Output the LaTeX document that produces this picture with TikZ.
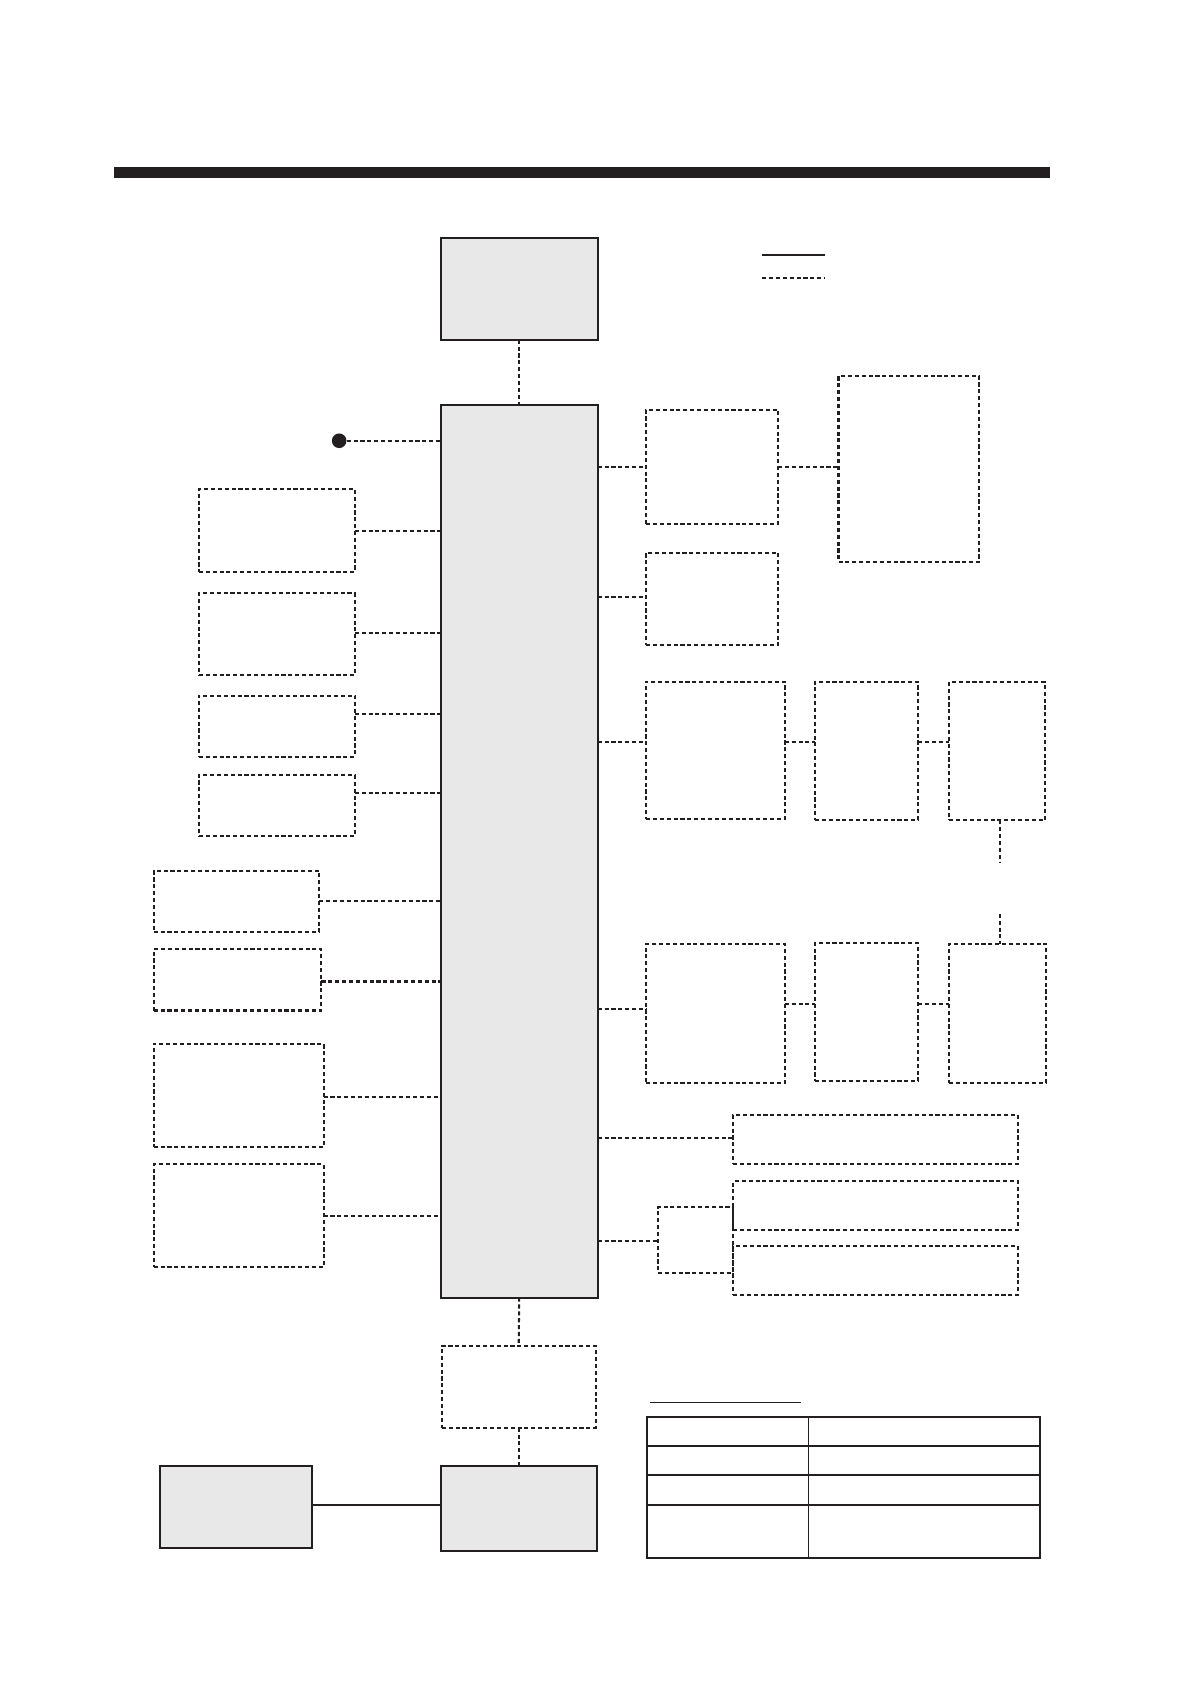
\documentclass[tikz,border=0pt]{standalone}
\usetikzlibrary{calc}
\definecolor{ink}{HTML}{231F20}
\definecolor{panel}{HTML}{E8E8E8}
\newcommand\boxat[6]{\node[#1,minimum width={(#5-#3)*1pt},minimum height={(#6-#4)*1pt}] (#2) at (#3,#4) {};}
\begin{document}
\begin{tikzpicture}[x=1pt,y=-1pt,
  solidbox/.style={draw=ink,line width=1.9pt,fill=panel,inner sep=0pt,outer sep=0pt,anchor=north west},
  dashbox/.style={draw=ink,line width=1.9pt,dash pattern=on 3.8pt off 2.6pt,inner sep=0pt,outer sep=0pt,anchor=north west},
  tablebox/.style={draw=ink,line width=1.9pt,inner sep=0pt,outer sep=0pt,anchor=north west},
  conn/.style={draw=ink,line width=1.9pt,dash pattern=on 3.8pt off 2.6pt},
  wire/.style={draw=ink,line width=1.6pt},
  rule/.style={draw=ink,line width=1.3pt}]
\useasboundingbox (0,0) rectangle (1107,1566.5);
% title bar
\fill[ink] (106,155) rectangle (977,166);
% legend
\coordinate (lgA) at (709,237); \coordinate (lgB) at (767,237);
\coordinate (lgC) at (709,259); \coordinate (lgD) at (767,259);
\draw[wire,line width=1.9pt] (lgA) -- (lgB);
\draw[conn] (lgC) -- (lgD);
% central column
\boxat{solidbox}{T}{410}{221}{556}{316}
\boxat{solidbox}{M}{410}{377}{556}{1207}
\draw[conn] (T.south) -- (M.north);
% dot input
\node[circle,fill=ink,inner sep=0pt,minimum size=13.6pt] (dot) at (315.5,410) {};
\draw[conn] (dot) -- (dot -| M.west);
% left boxes
\boxat{dashbox}{L1}{185}{455}{330}{532}
\boxat{dashbox}{L2}{185}{552}{330}{628}
\boxat{dashbox}{L3}{185}{647}{330}{704}
\boxat{dashbox}{L4}{185}{721}{330}{778}
\boxat{dashbox}{L5}{143}{810}{297}{867}
\boxat{dashbox}{L6}{143}{883}{299}{940}
\boxat{dashbox}{L7}{143}{971}{301}{1067}
\boxat{dashbox}{L8}{143}{1083}{301}{1179}
\coordinate (h1) at (0,494);
\coordinate (h2) at (0,589);
\coordinate (h3) at (0,664);
\coordinate (h4) at (0,738);
\coordinate (h5) at (0,838);
\coordinate (h6) at (0,913);
\coordinate (h7) at (0,1020);
\coordinate (h8) at (0,1131);
\foreach \i in {1,...,8}{\draw[conn] (L\i.east |- h\i) -- (M.west |- h\i);}
% right boxes
\boxat{dashbox}{R1}{601}{381}{724}{487}
\boxat{dashbox}{R1b}{780}{350}{911}{523}
\boxat{dashbox}{R2}{601}{514}{724}{600}
\boxat{dashbox}{R3a}{601}{634}{730}{762}
\boxat{dashbox}{R3b}{758}{634}{854}{763}
\boxat{dashbox}{R3c}{883}{634}{972}{763}
\boxat{dashbox}{R4a}{601}{878}{730}{1007}
\boxat{dashbox}{R4b}{758}{877}{854}{1006}
\boxat{dashbox}{R4c}{883}{878}{973}{1007}
\boxat{dashbox}{R5}{682}{1037}{947}{1083}
\boxat{dashbox}{R6}{682}{1099}{947}{1144}
\boxat{dashbox}{R7}{682}{1159}{947}{1205}
\boxat{dashbox}{S}{612}{1123}{682}{1184}
\coordinate (r1) at (0,434);
\coordinate (r2) at (0,555);
\coordinate (r3) at (0,690);
\coordinate (r4) at (0,939);
\coordinate (r4b) at (0,934);
\coordinate (r5) at (0,1059);
\coordinate (r6) at (0,1154);
\draw[conn] (M.east |- r1) -- (R1.west |- r1);
\draw[conn] (R1.east |- r1) -- (R1b.west |- r1);
\draw[conn] (M.east |- r2) -- (R2.west |- r2);
\draw[conn] (M.east |- r3) -- (R3a.west |- r3);
\draw[conn] (R3a.east |- r3) -- (R3b.west |- r3);
\draw[conn] (R3b.east |- r3) -- (R3c.west |- r3);
\draw[conn] (M.east |- r4) -- (R4a.west |- r4);
\draw[conn] (R4a.east |- r4b) -- (R4b.west |- r4b);
\draw[conn] (R4b.east |- r4b) -- (R4c.west |- r4b);
\draw[conn] (M.east |- r5) -- (R5.west |- r5);
\draw[conn] (M.east |- r6) -- (S.west |- r6);
\coordinate (v1) at (930,802);
\coordinate (v2) at (930,850);
\draw[conn] (v1 |- R3c.south) -- (v1);
\draw[conn] (v2) -- (v2 |- R4c.north);
% bottom
\boxat{dashbox}{B1}{411}{1252}{554}{1328}
\boxat{solidbox}{B2}{410}{1364}{555}{1443}
\boxat{solidbox}{B3}{149}{1364}{290}{1440}
\draw[conn] (M.south) -- (B1.north);
\draw[conn] (B1.south) -- (B2.north);
\coordinate (w1) at (0,1400);
\draw[wire] (B3.east |- w1) -- (B2.west |- w1);
% table
\coordinate (tlA) at (605,1305); \coordinate (tlB) at (745,1305);
\draw[ink,line width=1pt] (tlA) -- (tlB);
\boxat{tablebox}{tab}{602}{1318}{967}{1449}
\coordinate (tc) at (752,0);
\coordinate (t1) at (0,1345);
\coordinate (t2) at (0,1372);
\coordinate (t3) at (0,1400);
\draw[rule] (tc |- tab.north) -- (tc |- tab.south);
\foreach \r in {t1,t2,t3}{\draw[rule] (tab.west |- \r) -- (tab.east |- \r);}
\end{tikzpicture}
\end{document}
